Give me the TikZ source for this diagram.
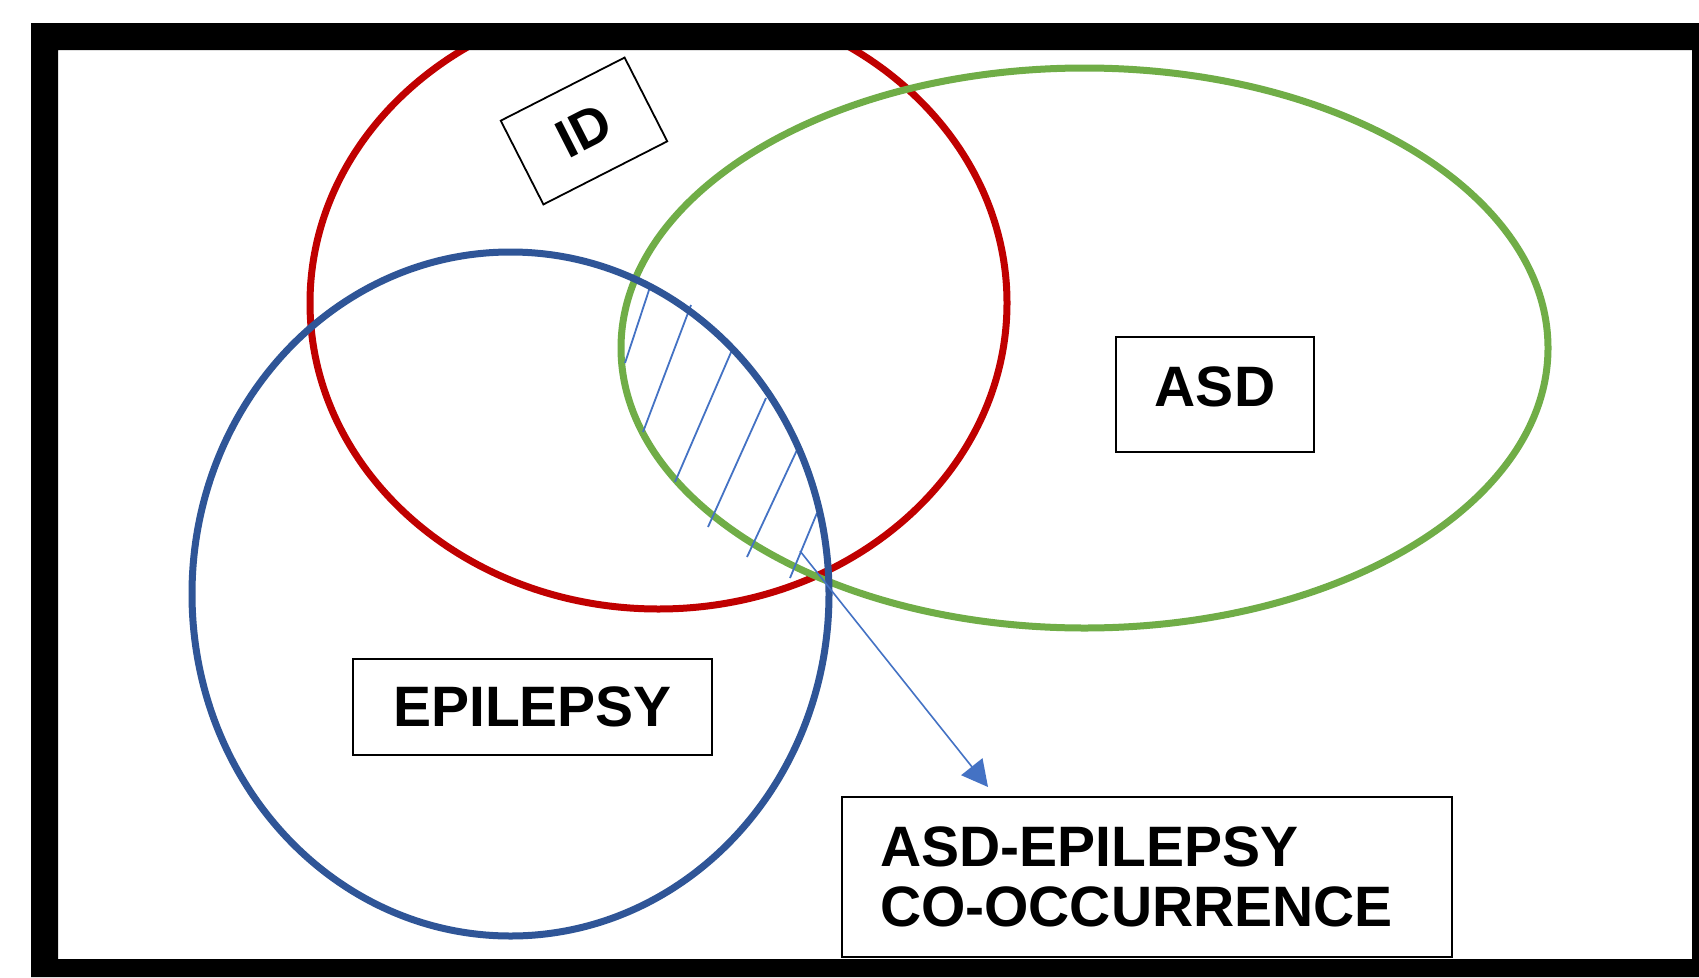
\documentclass[tikz,border=0pt]{standalone}
\usepackage{fontspec}
\setmainfont{Liberation Sans}
\usetikzlibrary{arrows.meta}
\definecolor{idred}{HTML}{C00000}
\definecolor{asdgreen}{HTML}{70AD47}
\definecolor{epiblue}{HTML}{2F5597}
\definecolor{hatchblue}{HTML}{4472C4}
\begin{document}
\begin{tikzpicture}[x=1pt,y=-1pt,
  setring/.style={line width=7pt},
  labelbox/.style={draw=black, line width=1.8pt, fill=white, inner sep=0pt,
    font=\bfseries\fontsize{57}{60}\selectfont},
  hatchline/.style={draw=hatchblue, line width=1.8pt},
  pointer/.style={draw=hatchblue, line width=1.6pt, -{Triangle[length=26pt,width=27pt]}}
]
\useasboundingbox (0,0) rectangle (1699,977);
\fill[white] (0,0) rectangle (1699,977);
\begin{scope}
  \clip (58,50) rectangle (1692,959);
  \draw[setring, idred] (658.5,303) ellipse [x radius=348.5, y radius=306];
  \draw[setring, asdgreen] (1084.5,348) ellipse [x radius=463.5, y radius=280];
  \draw[hatchline] (650,287) -- (625,363);
  \draw[hatchline] (691,305) -- (643,432);
  \draw[hatchline] (732,350) -- (675,482);
  \draw[hatchline] (766,398) -- (708,527);
  \draw[hatchline] (797,450) -- (747,557);
  \draw[hatchline] (817,513) -- (790,578);
  \draw[setring, epiblue] (510.5,594) ellipse [x radius=318.5, y radius=342];
\end{scope}
\coordinate (cs) at (800,551);
\coordinate (ct) at (988,787);
\draw[pointer] (cs) -- (ct);
\fill[black, even odd rule] (31,23) rectangle (1699,977) (58,50) rectangle (1692,959);
\node[labelbox, font=\bfseries\fontsize{54}{60}\selectfont, minimum width=139pt, minimum height=94pt, rotate=27] (id) at (584,131) {ID};
\node[labelbox, minimum width=198pt, minimum height=115pt] (asd) at (1215,394.5) {\raisebox{-12pt}[0pt][0pt]{ASD}};
\node[labelbox, minimum width=359pt, minimum height=96pt] (epi) at (532.5,707) {EPILEPSY};
\node[labelbox, minimum width=610pt, minimum height=160pt, text width=534pt, align=left] (co) at (1147,877) {ASD-EPILEPSY\\CO-OCCURRENCE};
\end{tikzpicture}
\end{document}
